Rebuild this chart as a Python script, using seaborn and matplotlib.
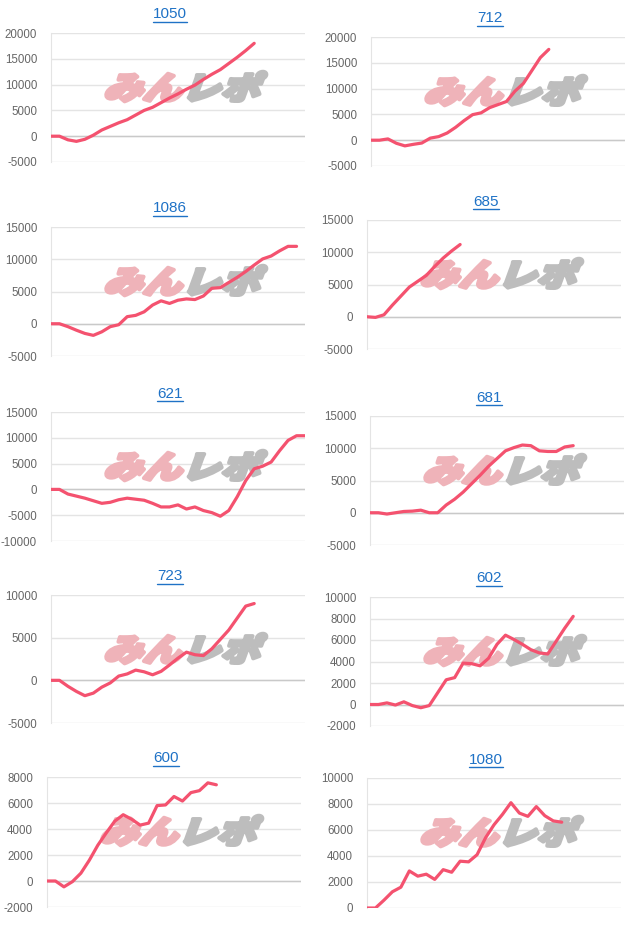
import matplotlib
matplotlib.use("Agg")
import matplotlib.pyplot as plt
import seaborn as sns
from matplotlib.textpath import TextPath
from matplotlib.patches import PathPatch
from matplotlib.font_manager import FontProperties
from matplotlib.transforms import Affine2D
from matplotlib.lines import Line2D

sns.set_style("white")
plt.rcParams['font.family'] = ['Liberation Sans', 'DejaVu Sans']
plt.rcParams['axes.unicode_minus'] = False

# machine numbers (panel titles)
machines = ['1050', '712', '1086', '685', '621', '681', '723', '602', '600', '1080']

# cumulative values per machine, one point per day
v1050 = [0, 0, -700, -1000, -600, 200, 1200, 1900, 2600, 3200, 4100, 5000, 5600,
         6500, 7400, 8200, 9100, 9900, 11000, 12000, 12900, 14100, 15300, 16600, 18000]
v712 = [0, 0, 250, -600, -1100, -800, -550, 400, 700, 1400, 2500, 3800, 4950, 5300,
        6300, 6900, 7500, 9500, 11000, 13500, 16000, 17600]
v1086 = [0, 0, -450, -1000, -1500, -1800, -1250, -450, -150, 1100, 1300, 1850, 2900,
         3550, 3150, 3650, 3850, 3750, 4300, 5500, 5600, 6400, 7200, 8100, 9100, 10050,
         10500, 11300, 12000, 12000]
v685 = [0, -100, 300, 1800, 3200, 4600, 5500, 6400, 7800, 9100, 10200, 11200]
v621 = [0, 0, -900, -1300, -1700, -2200, -2700, -2500, -2000, -1700, -1900, -2100,
        -2700, -3400, -3400, -3000, -3800, -3400, -4100, -4500, -5200, -4100, -1400,
        1700, 4000, 4500, 5300, 7500, 9500, 10400, 10400]
v681 = [0, 0, -200, 0, 200, 250, 400, 0, 0, 1200, 2100, 3200, 4500, 5800, 7200, 8400,
        9600, 10100, 10500, 10400, 9600, 9500, 9500, 10200, 10400]
v723 = [0, 0, -700, -1300, -1800, -1500, -800, -300, 500, 750, 1200, 1000, 650, 1050,
        1800, 2600, 3300, 3000, 2900, 3700, 4800, 5900, 7300, 8700, 9000]
v602 = [0, 0, 150, -50, 250, -100, -300, -100, 1100, 2300, 2500, 3850, 3800, 3600,
        4300, 5600, 6450, 6050, 5600, 5100, 4800, 4700, 5900, 7100, 8200]
v600 = [0, 0, -450, -50, 600, 1600, 2750, 3700, 4600, 5100, 4750, 4300, 4450, 5800,
        5850, 6500, 6150, 6800, 6950, 7550, 7400]
v1080 = [0, 0, 600, 1250, 1600, 2850, 2450, 2600, 2200, 2950, 2750, 3600, 3550, 4100,
         5400, 6400, 7200, 8100, 7300, 7050, 7800, 7100, 6700, 6600]
series = [v1050, v712, v1086, v685, v621, v681, v723, v602, v600, v1080]

# y axis (min, max, step) per panel
y_axes = [(-5000, 20000, 5000), (-5000, 20000, 5000), (-5000, 15000, 5000),
          (-5000, 15000, 5000), (-10000, 15000, 5000), (-5000, 15000, 5000),
          (-5000, 10000, 5000), (-2000, 10000, 2000), (-2000, 8000, 2000),
          (0, 10000, 2000)]

# layout in pixels: left, top, bottom of each plot area
boxes = [(51, 33, 162), (371, 37, 166), (51, 227, 356), (367, 220, 349),
         (51, 412, 541), (370, 416, 545), (51, 595, 723), (370, 597, 726),
         (47, 777, 907), (367, 778, 908)]

W, H = 640, 931
AW = 254
N_SLOTS = 30
LINE = '#f4526f'
GRID = '#e4e4e4'

fig = plt.figure(figsize=(W / 100, H / 100), dpi=100)
wm_font = FontProperties(family='Noto Sans CJK JP', weight='heavy')


def watermark(ax, left, top):
    parts = [('みん', '#efb3b9', 0), ('レポ', '#bdbdbd', 78)]
    for txt, col, dx in parts:
        tp = TextPath((0, 0), txt, size=40, prop=wm_font)
        tr = (Affine2D().scale(0.98, 0.78).skew_deg(20, 0)
              .translate(left + 52 + dx, H - (top + 66)).scale(0.01)
              + fig.dpi_scale_trans)
        p = PathPatch(tp, transform=tr, fc=col, ec=col, lw=2.8,
                      joinstyle='round', zorder=1, clip_on=False)
        ax.add_artist(p)


titles = []
for name, vals, (ymin, ymax, step), (l, t, b) in zip(machines, series, y_axes, boxes):
    ax = fig.add_axes([l / W, 1 - b / H, AW / W, (b - t) / H])
    sns.lineplot(x=list(range(len(vals))), y=vals, ax=ax, color=LINE,
                 linewidth=2.3, zorder=3)
    ax.lines[-1].set_solid_joinstyle('round')
    ax.lines[-1].set_solid_capstyle('round')
    ax.set_xlim(0, N_SLOTS)
    ax.set_ylim(ymin, ymax)
    ax.set_yticks(list(range(ymin, ymax + 1, step)))
    ax.set_xticks([])
    ax.set_xlabel('')
    ax.set_ylabel('')
    ax.yaxis.grid(True, color=GRID, linewidth=1)
    ax.set_axisbelow(True)
    if ymin < 0:
        ax.axhline(0, color='#c9c9c9', linewidth=1, zorder=0.8)
    for s in ['top', 'right', 'bottom']:
        ax.spines[s].set_visible(False)
    ax.spines['left'].set_color(GRID)
    ax.tick_params(axis='y', length=8, width=1, color=GRID, pad=2,
                   labelsize=8.3, labelcolor='#666666')
    watermark(ax, l, t)
    tt = fig.text((l + AW / 2 - 8) / W, 1 - (t - 18.5) / H, name, ha='center',
                  va='center', color='#1f72c6', fontsize=11)
    titles.append(tt)

renderer = fig.canvas.get_renderer()
for tt in titles:
    bb = tt.get_window_extent(renderer)
    yy = (bb.y0 - 0.5) / H
    fig.add_artist(Line2D([bb.x0 / W, bb.x1 / W], [yy, yy], transform=fig.transFigure,
                          color='#1f72c6', linewidth=1))

fig.savefig('out.png', dpi=100)
